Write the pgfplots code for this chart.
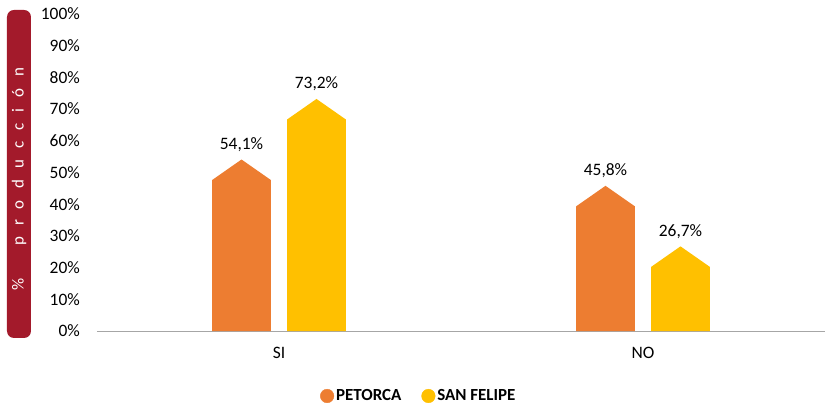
\documentclass[border=0pt]{standalone}
\usepackage{fontspec}
\setmainfont{Carlito}
\usepackage{pgfplots}
\pgfplotsset{compat=1.18}
\definecolor{petorca}{HTML}{ED7D31}
\definecolor{sanfelipe}{HTML}{FFC000}
\definecolor{boxred}{HTML}{A31A2B}
\newcommand\lblfont{\fontsize{17.5}{20}\selectfont}
\begin{document}
\begin{tikzpicture}
\begin{axis}[
  scale only axis,
  width=728bp, height=317bp,
  xmin=-0.5, xmax=1.5,
  ymin=0, ymax=100,
  axis y line=none,
  axis x line*=bottom,
  axis line style={gray!70, line width=0.8pt},
  xtick={0,1}, xticklabels={SI,NO},
  x tick label style={font=\lblfont, yshift=-13bp},
  major tick length=0pt,
  clip=false,
  /pgf/number format/assume math mode=true,
  legend style={at={(0.442,-0.205)}, anchor=center, draw=none,
    legend columns=-1, font=\fontsize{17}{19}\selectfont\bfseries,
    /tikz/every even column/.append style={column sep=18bp}},
  legend image code/.code={\fill[#1] (0.2cm,0cm) circle (0.24cm);},
]
% SI
\addplot[fill=petorca, draw=none, forget plot] coordinates {(-0.184,0) (-0.184,47.6) (-0.103,54.1) (-0.022,47.6) (-0.022,0)} --cycle;
\addplot[fill=sanfelipe, draw=none, forget plot] coordinates {(0.022,0) (0.022,66.7) (0.103,73.2) (0.184,66.7) (0.184,0)} --cycle;
% NO
\addplot[fill=petorca, draw=none, forget plot] coordinates {(0.816,0) (0.816,39.3) (0.897,45.8) (0.978,39.3) (0.978,0)} --cycle;
\addplot[fill=sanfelipe, draw=none, forget plot] coordinates {(1.022,0) (1.022,20.2) (1.103,26.7) (1.184,20.2) (1.184,0)} --cycle;
\addlegendimage{petorca}
\addlegendimage{sanfelipe}
\legend{PETORCA, SAN FELIPE}
% value labels
\begin{scope}[every node/.style={font=\lblfont, anchor=base, yshift=10bp, inner sep=0pt}]
\node at (axis cs:-0.103,54.1) {54,1\%};
\node at (axis cs:0.103,73.2) {73,2\%};
\node at (axis cs:0.897,45.8) {45,8\%};
\node at (axis cs:1.103,26.7) {26,7\%};
\end{scope}
% y tick labels
\pgfplotsinvokeforeach{0,10,...,100}{
  \node[anchor=east, font=\lblfont, inner sep=0pt] at ([xshift=-17bp]axis cs:-0.5,#1) {#1\%};
}
\end{axis}
% y label box
\fill[boxred, rounded corners=7bp] ([xshift=-90bp, yshift=-7bp]current axis.south west) rectangle ++(24bp,328bp);
\node[rotate=90, text=white, font=\fontsize{17}{19}\selectfont\addfontfeature{LetterSpace=66}] at ([xshift=-78bp, yshift=152bp]current axis.south west) {\%\hspace{32bp}producción};
\path ([xshift=-97bp, yshift=-75bp]current axis.south west) rectangle ++(827bp,406bp);
\end{tikzpicture}
\end{document}
